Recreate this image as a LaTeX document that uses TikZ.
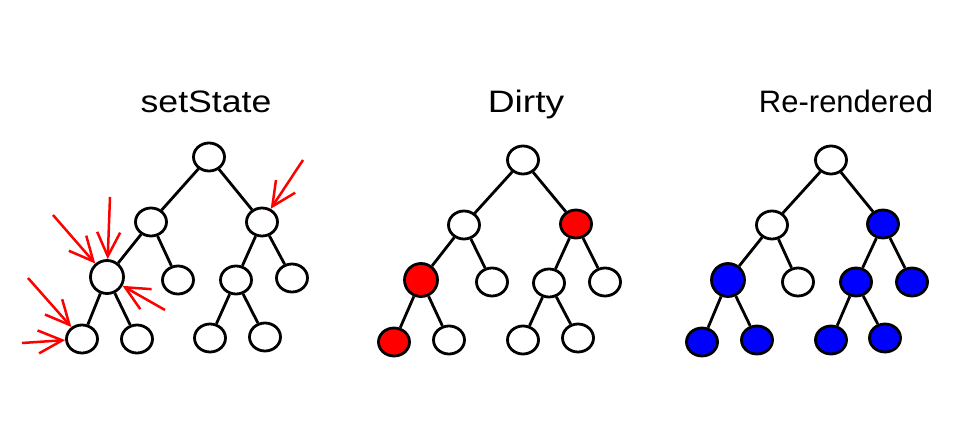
\documentclass[tikz,border=0pt]{standalone}
\usepackage{fontspec}
\setmainfont{Liberation Sans}
\usetikzlibrary{shapes.geometric}
\usetikzlibrary{arrows.meta}

\begin{document}
\begin{tikzpicture}[x=1pt,y=-1pt]
\tikzstyle{leaf} = [ellipse, draw=black, line width=2.8pt, fill=white, inner sep=0pt, minimum width=31pt, minimum height=28pt]
\tikzstyle{big} = [leaf, minimum width=33pt, minimum height=33pt]
\tikzstyle{dirty} = [fill=red]
\tikzstyle{done} = [fill=blue]
\tikzstyle{edge} = [draw, line width=2.8pt]
\tikzstyle{call} = [draw=red, line width=2.5pt, -{Straight Barb[length=24pt,width=23pt]}]
\tikzstyle{title} = [anchor=base, font=\fontsize{31}{34}\selectfont]
\useasboundingbox (0,0) rectangle (957,438);
% titles
\node [title, xscale=1.15] (t-set) at (206,113) {setState};
\node [title, xscale=1.2] (t-dirty) at (526,113) {Dirty};
\node [title] (t-render) at (846,113) {Re-rendered};
% tree 1
\node [leaf] (s-root) at (209,157) {};
\node [leaf] (s-l) at (151,222) {};
\node [leaf] (s-r) at (262,222) {};
\node [big] (s-ll) at (107,277) {};
\node [leaf] (s-lr) at (178,280) {};
\node [leaf] (s-rl) at (236,280) {};
\node [leaf] (s-rr) at (292,278) {};
\node [leaf] (s-lll) at (82,339) {};
\node [leaf] (s-llr) at (137,339) {};
\node [leaf] (s-rll) at (210,338) {};
\node [leaf] (s-rlr) at (265,337) {};
% tree 2
\node [leaf] (d-root) at (523,160) {};
\node [leaf] (d-l) at (464,225) {};
\node [leaf,dirty] (d-r) at (576,224) {};
\node [big,dirty] (d-ll) at (421,280) {};
\node [leaf] (d-lr) at (492,282) {};
\node [leaf] (d-rl) at (549,283) {};
\node [leaf] (d-rr) at (605,282) {};
\node [leaf,dirty] (d-lll) at (394,342) {};
\node [leaf] (d-llr) at (449,340) {};
\node [leaf] (d-rll) at (523,340) {};
\node [leaf] (d-rlr) at (578,338) {};
% tree 3
\node [leaf] (n-root) at (831,160) {};
\node [leaf] (n-l) at (772,225) {};
\node [leaf,done] (n-r) at (883,224) {};
\node [big,done] (n-ll) at (728,280) {};
\node [leaf] (n-lr) at (798,282) {};
\node [leaf,done] (n-rl) at (856,282) {};
\node [leaf,done] (n-rr) at (912,282) {};
\node [leaf,done] (n-lll) at (702,342) {};
\node [leaf,done] (n-llr) at (757,340) {};
\node [leaf,done] (n-rll) at (831,340) {};
\node [leaf,done] (n-rlr) at (885,338) {};
% edges
\foreach \t in {s,d,n} {
  \draw [edge] (\t-root) -- (\t-l);
  \draw [edge] (\t-root) -- (\t-r);
  \draw [edge] (\t-l) -- (\t-ll);
  \draw [edge] (\t-l) -- (\t-lr);
  \draw [edge] (\t-r) -- (\t-rl);
  \draw [edge] (\t-r) -- (\t-rr);
  \draw [edge] (\t-ll) -- (\t-lll);
  \draw [edge] (\t-ll) -- (\t-llr);
  \draw [edge] (\t-rl) -- (\t-rll);
  \draw [edge] (\t-rl) -- (\t-rlr);
}
% setState calls
\coordinate (c1) at (303,160);
\coordinate (c2) at (53,215);
\coordinate (c3) at (110,197);
\coordinate (c4) at (165,310);
\coordinate (c5) at (28,278);
\coordinate (c6) at (22,343);
\draw [call] (c1) -- (s-r);
\draw [call] (c2) -- (s-ll);
\draw [call] (c3) -- (s-ll);
\draw [call] (c4) -- (s-ll);
\draw [call] (c5) -- (s-lll);
\draw [call] (c6) -- (s-lll);
\end{tikzpicture}
\end{document}
